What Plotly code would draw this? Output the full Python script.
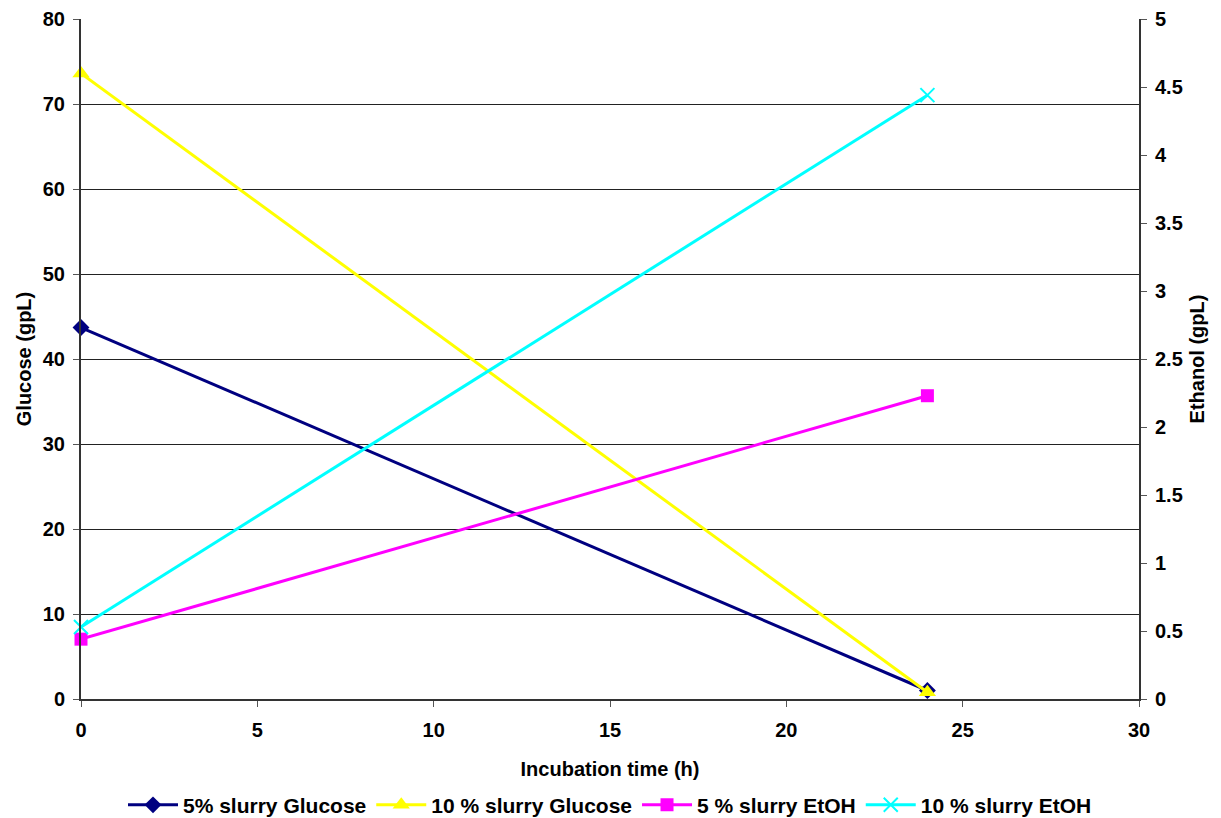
import plotly.graph_objects as go

time_h = [0, 24]
glucose_5 = [43.7, 1.0]
glucose_10 = [73.6, 0.8]
etoh_5 = [0.44, 2.23]
etoh_10 = [0.53, 4.44]

x_ticks = [0, 5, 10, 15, 20, 25, 30]

FONT = "Liberation Sans, Arial, sans-serif"

fig = go.Figure()
fig.add_trace(go.Scatter(x=time_h, y=glucose_5, name="5% slurry Glucose", mode="lines+markers",
                         line=dict(color="#000080", width=3), cliponaxis=False,
                         marker=dict(symbol="diamond", size=13, color="#000080")))
fig.add_trace(go.Scatter(x=time_h, y=glucose_10, name="10 % slurry Glucose", mode="lines+markers",
                         line=dict(color="#FFFF00", width=3), cliponaxis=False,
                         marker=dict(symbol="triangle-up", size=15, color="#FFFF00")))
fig.add_trace(go.Scatter(x=time_h, y=etoh_5, name="5 % slurry EtOH", mode="lines+markers", yaxis="y2",
                         line=dict(color="#FF00FF", width=3), cliponaxis=False,
                         marker=dict(symbol="square", size=13, color="#FF00FF")))
fig.add_trace(go.Scatter(x=time_h, y=etoh_10, name="10 % slurry EtOH", mode="lines+markers", yaxis="y2",
                         line=dict(color="#00FFFF", width=3), cliponaxis=False,
                         marker=dict(symbol="x-thin", size=14, line=dict(color="#00FFFF", width=2))))

tickfont = dict(family=FONT, size=20, color="black", weight="bold")
titlefont = dict(family=FONT, size=20, color="black", weight="bold")

fig.update_layout(
    width=1221, height=818,
    margin=dict(l=73, r=90, t=11, b=127, autoexpand=False),
    paper_bgcolor="white", plot_bgcolor="white",
    showlegend=True,
    legend=dict(orientation="h", x=0.5, xanchor="center", y=-0.126, yanchor="top",
                font=dict(family=FONT, size=21, color="black", weight="bold"),
                itemwidth=50, tracegroupgap=0),
    xaxis=dict(range=[0, 30], tickvals=x_ticks, showgrid=False, zeroline=False, automargin=False,
               showline=True, linecolor="#333", linewidth=2, ticks="outside", ticklen=6,
               tickcolor="#555", tickfont=tickfont, ticklabelstandoff=6,
               title=dict(text="Incubation time (h)", font=titlefont, standoff=22)),
    yaxis=dict(range=[0, 80], dtick=10, showgrid=True, gridcolor="#222", gridwidth=1, automargin=False,
               zeroline=False, showline=True, linecolor="#333", linewidth=2,
               ticks="outside", ticklen=6, tickcolor="#555", tickfont=tickfont, ticklabelstandoff=4,
               title=dict(text="Glucose (gpL)", font=titlefont, standoff=6)),
    yaxis2=dict(range=[0, 5], dtick=0.5, overlaying="y", side="right", showgrid=False, automargin=False,
                zeroline=False, showline=True, linecolor="#333", linewidth=2,
                ticks="outside", ticklen=6, tickcolor="#555", tickfont=tickfont, ticklabelstandoff=4,
                title=dict(text="Ethanol (gpL)", font=titlefont, standoff=8)),
)

fig.write_html("out.html")
